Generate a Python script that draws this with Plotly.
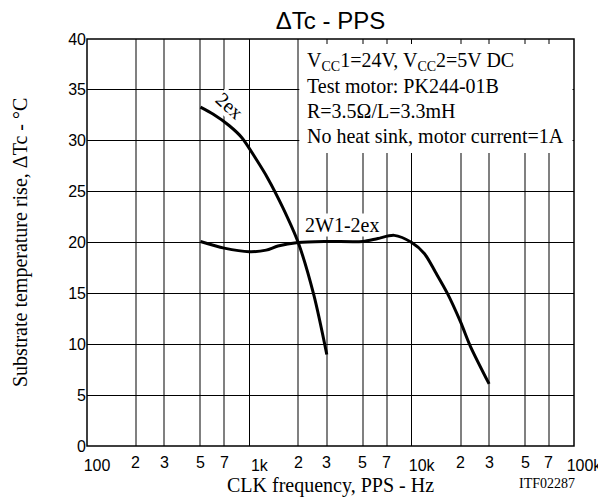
import numpy as np
import plotly.graph_objects as go

# curve "2ex"
freq_2ex = [500, 600, 750, 900, 1100, 1300, 1600, 2000, 2500, 3000]
rise_2ex = [33.3, 32.6, 31.5, 30.3, 28.2, 26.3, 23.5, 20.0, 14.8, 9.0]

# curve "2W1-2ex"
freq_2w = [500, 700, 1000, 1270, 1500, 2000, 3000, 5000, 6200, 7800, 10000,
           12000, 14000, 16600, 20000, 23000, 30000]
rise_2w = [20.1, 19.45, 19.1, 19.25, 19.65, 20.0, 20.1, 20.1, 20.4, 20.7, 20.0,
           18.9, 17.1, 15.0, 12.2, 9.8, 6.1]

decade_vals = [100, 1000, 10000, 100000]
decade_text = ["100", "1k", "10k", "100k"]
minor_vals = [200, 300, 500, 700, 2000, 3000, 5000, 7000,
              20000, 30000, 50000, 70000]
minor_text = ["2", "3", "5", "7"] * 3

note_lines = [
    "V<sub>CC</sub>1=24V, V<sub>CC</sub>2=5V DC",
    "Test motor: PK244-01B",
    "R=3.5Ω/L=3.3mH",
    "No heat sink, motor current=1A",
]

serif = "Liberation Serif, Times New Roman, serif"
sans = "Liberation Sans, Arial, sans-serif"

fig = go.Figure()
fig.add_trace(go.Scatter(x=freq_2ex, y=rise_2ex, mode="lines",
                         line=dict(color="black", width=3, shape="spline", smoothing=0.8),
                         showlegend=False))
fig.add_trace(go.Scatter(x=freq_2w, y=rise_2w, mode="lines",
                         line=dict(color="black", width=3, shape="spline", smoothing=0.8),
                         showlegend=False))

# white box behind the notes, then the frame again on top
fig.add_shape(type="rect", xref="paper", yref="paper", x0=0.436, x1=0.997, y0=0.72, y1=0.988,
              fillcolor="white", line_width=0, layer="above")
fig.add_shape(type="rect", xref="paper", yref="paper", x0=0, x1=1, y0=0, y1=1,
              line=dict(color="black", width=1.5), layer="above")

for i, t in enumerate(note_lines):
    fig.add_annotation(xref="paper", yref="paper", x=0.447, y=0.945 - i * 0.0615,
                       text=t, showarrow=False, xanchor="left", yanchor="middle",
                       font=dict(family=serif, size=20, color="black"))

for v, t in zip(minor_vals, minor_text):
    fig.add_annotation(x=np.log10(v), yref="paper", y=0, yshift=-16, text=t,
                       showarrow=False, yanchor="middle",
                       font=dict(family=sans, size=16, color="black"))

fig.add_annotation(x=np.log10(760), y=33.4, text="2ex", textangle=42, showarrow=False,
                   bgcolor="white", borderpad=0,
                   font=dict(family=serif, size=20, color="black"))
fig.add_annotation(x=np.log10(3740), y=21.7, text="2W1-2ex", showarrow=False,
                   bgcolor="white", borderpad=0,
                   font=dict(family=serif, size=20, color="black"))

fig.add_annotation(xref="paper", yref="paper", x=-0.1365, y=0.5, xanchor="center",
                   text="Substrate temperature rise, ΔTc - °C", textangle=-90,
                   showarrow=False, font=dict(family=serif, size=20, color="black"))
fig.add_annotation(xref="paper", yref="paper", x=0.5, y=-0.098, xanchor="center",
                   text="CLK frequency, PPS - Hz", showarrow=False, yanchor="middle",
                   font=dict(family=serif, size=20, color="black"))
fig.add_annotation(xref="paper", yref="paper", x=1.006, y=-0.093, xanchor="right",
                   text="ITF02287", showarrow=False, yanchor="middle",
                   font=dict(family=serif, size=14, color="black"))

fig.update_layout(
    width=606, height=500,
    margin=dict(l=79, r=36, t=31, b=62),
    paper_bgcolor="white", plot_bgcolor="white",
    title=dict(text="ΔTc - PPS", xref="paper", x=0.5, xanchor="center",
               y=0.974, yanchor="middle",
               font=dict(family=sans, size=24, color="black")),
    xaxis=dict(type="log", range=[2, 5], tickvals=decade_vals, ticktext=decade_text,
               showgrid=True, gridcolor="black", gridwidth=1.2, ticks="",
               ticklabelshift=10, ticklabelstandoff=8,
               tickfont=dict(family=sans, size=16, color="black"),
               minor=dict(tickvals=minor_vals, showgrid=True, gridcolor="#808080",
                          gridwidth=1.5, ticks=""),
               showline=False, zeroline=False),
    yaxis=dict(range=[0, 40], dtick=5, showgrid=True, gridcolor="black", gridwidth=1.2,
               ticks="", tickfont=dict(family=sans, size=16, color="black"),
               showline=False, zeroline=False),
)

fig.write_html("out.html")
